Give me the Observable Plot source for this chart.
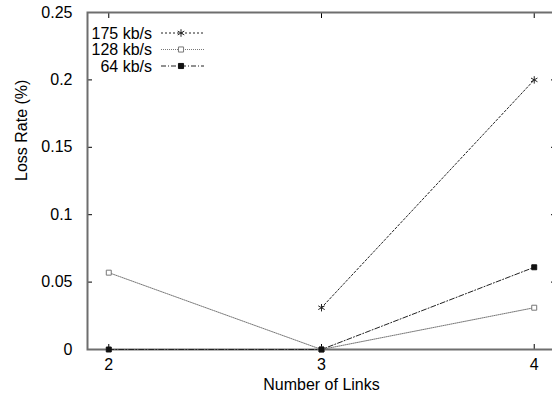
<!DOCTYPE html>
<html><head><meta charset="utf-8">
<script src="https://cdn.jsdelivr.net/npm/d3@7"></script>
<script src="https://cdn.jsdelivr.net/npm/@observablehq/plot@0.6"></script>
<style>
html,body{margin:0;padding:0;background:#fff;overflow:hidden;}
#wrap{position:relative;width:552px;height:402px;overflow:hidden;}
#wrap svg{font-family:"Liberation Sans",Arial,sans-serif;max-width:none !important;}
#legend{position:absolute;left:0;top:0;}
</style></head>
<body><div id="wrap"></div>
<script>
const links = [2, 3, 4];
const seriesNames = ["175 kb/s", "128 kb/s", "64 kb/s"];
const rate175 = [null, 0.031, 0.2];
const rate128 = [0.057, 0, 0.031];
const rate64 = [0, 0, 0.061];
const yTicks = [0, 0.05, 0.1, 0.15, 0.2, 0.25];
const yTickLabels = ["0", "0.05", "0.1", "0.15", "0.2", "0.25"];

const seriesValues = [rate175, rate128, rate64];
const styles = {
  "175 kb/s": {stroke: "#222", dash: "2,2", symbol: "asterisk", fill: "none", mstroke: "#222"},
  "128 kb/s": {stroke: "#777", dash: "1,1", symbol: "square", fill: "white", mstroke: "#777"},
  "64 kb/s": {stroke: "#222", dash: "5,2,1,2", symbol: "square", fill: "#111", mstroke: "#111"}
};
const rows = [];
seriesNames.forEach((s, i) => links.forEach((x, j) => {
  if (seriesValues[i][j] != null) rows.push({series: s, links: x, rate: seriesValues[i][j]});
}));

const marks = [];
for (const s of seriesNames) {
  const st = styles[s];
  const d = rows.filter(r => r.series === s);
  marks.push(Plot.line(d, {x: "links", y: "rate", stroke: st.stroke, strokeWidth: 1, strokeDasharray: st.dash}));
}
for (const s of seriesNames) {
  const st = styles[s];
  const d = rows.filter(r => r.series === s);
  marks.push(Plot.dot(d, {x: "links", y: "rate", symbol: () => st.symbol, r: st.symbol === "asterisk" ? 3.5 : 2.8, fill: st.fill, stroke: st.mstroke, strokeWidth: 1}));
}

const chart = Plot.plot({
  width: 556, height: 402,
  marginLeft: 87, marginRight: 1, marginTop: 12, marginBottom: 53,
  style: {fontSize: "16px", fontFamily: "Liberation Sans, Arial, sans-serif", color: "#000", background: "white", maxWidth: "none"},
  x: {domain: [1.9, 4.1], label: null},
  y: {domain: [0, 0.25], label: null},
  marks: [
    Plot.axisY(yTicks, {anchor: "left", tickSize: -5, tickPadding: 20, tickFormat: (d) => yTickLabels[yTicks.indexOf(d)], label: null, fontSize: 16}),
    Plot.axisY(yTicks, {anchor: "right", tickSize: -5, tickFormat: () => "", label: null}),
    Plot.axisX(links, {anchor: "bottom", tickSize: -5, tickPadding: 14, tickFormat: d => String(d), label: null, fontSize: 16}),
    Plot.axisX(links, {anchor: "top", tickSize: -5, tickFormat: () => "", label: null}),
    Plot.frame({stroke: "#6e6e6e", strokeWidth: 2}),
    ...marks,
    Plot.text(["Number of Links"], {frameAnchor: "bottom", dy: 40, fontSize: 16}),
    Plot.text(["Loss Rate (%)"], {frameAnchor: "left", dx: -66, rotate: -90, fontSize: 16})
  ]
});
const wrap = document.getElementById("wrap");
wrap.appendChild(chart);

// legend overlay
const lg = d3.select(wrap).append("svg").attr("id", "legend").attr("width", 552).attr("height", 402)
  .style("font-family", "Liberation Sans, Arial, sans-serif");
seriesNames.forEach((s, i) => {
  const st = styles[s];
  const y = 33 + i * 16.5;
  lg.append("text").attr("x", 152).attr("y", y).attr("dy", "0.35em").attr("text-anchor", "end")
    .attr("font-size", 16).text(s);
  lg.append("line").attr("x1", 161).attr("x2", 204).attr("y1", y).attr("y2", y)
    .attr("stroke", st.stroke).attr("stroke-dasharray", st.dash);
  const sym = st.symbol === "asterisk" ? d3.symbolAsterisk : d3.symbolSquare;
  const size = st.symbol === "asterisk" ? 40 : 26;
  lg.append("path").attr("transform", `translate(181,${y})`).attr("d", d3.symbol(sym, size)())
    .attr("fill", st.fill).attr("stroke", st.mstroke);
});
</script></body></html>
